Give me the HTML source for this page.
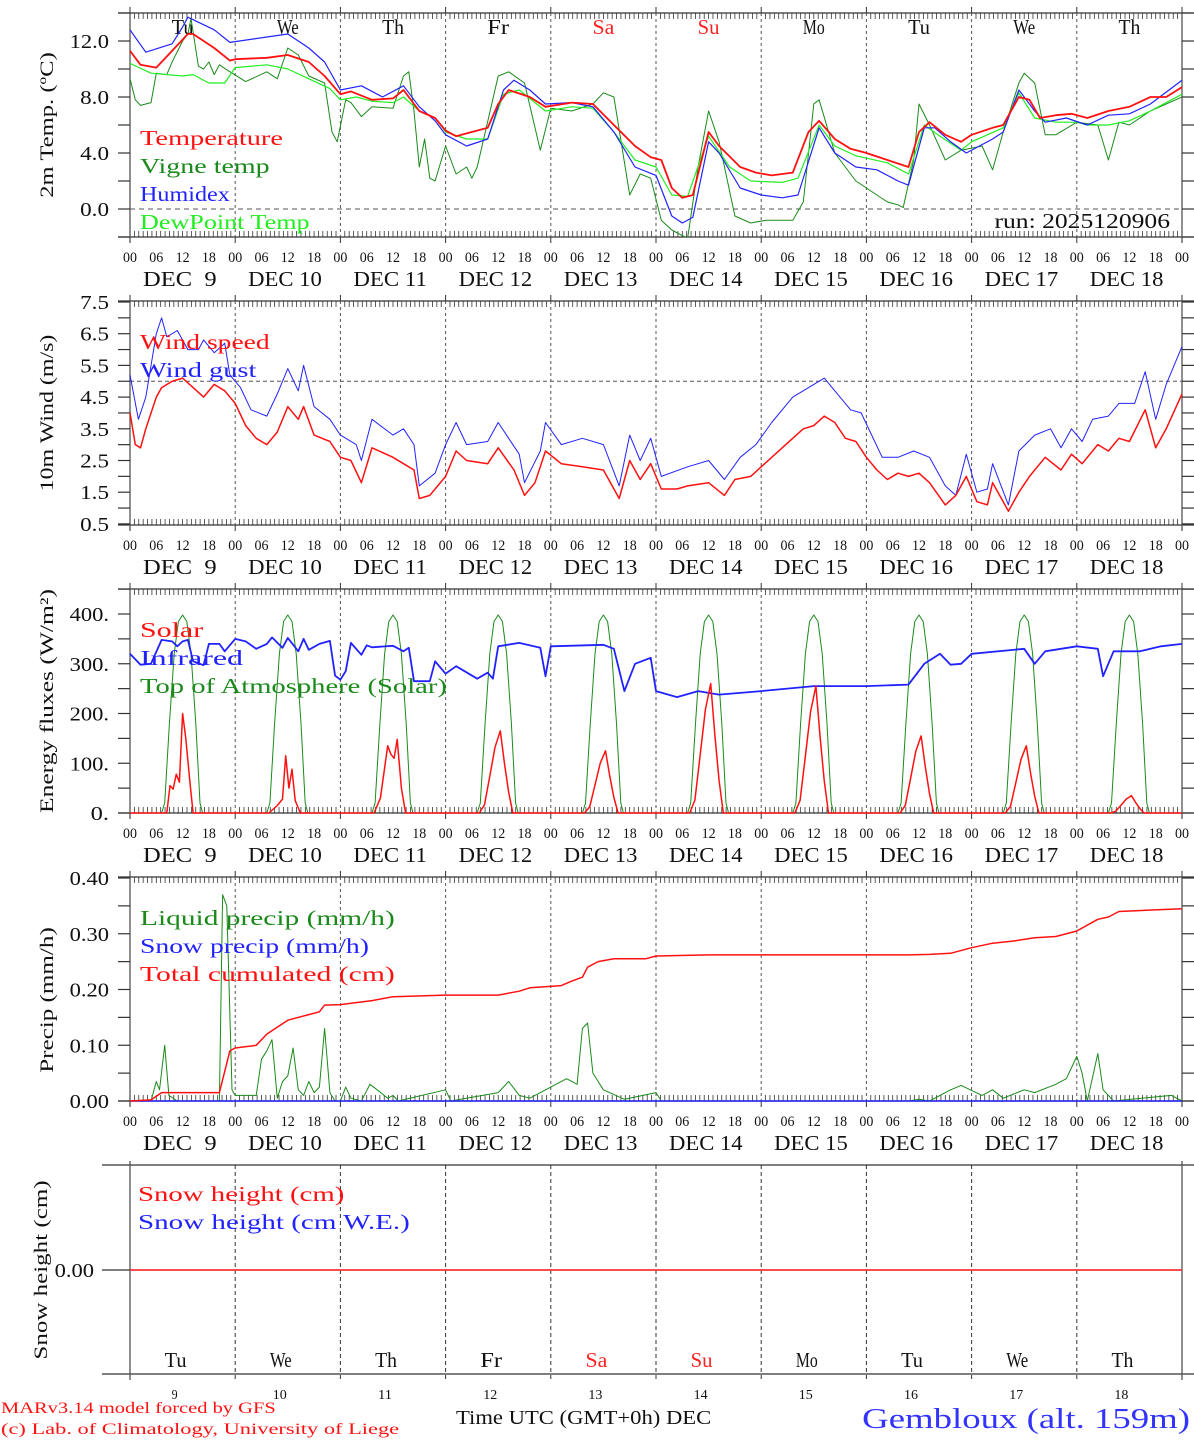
<!DOCTYPE html>
<html><head><meta charset="utf-8"><style>
html,body{margin:0;padding:0;background:#fff;}
svg{display:block;}
text{font-family:"Liberation Serif","DejaVu Serif",serif;}
</style></head><body>
<svg id="s" width="1194" height="1440" xmlns="http://www.w3.org/2000/svg"></svg>
<script>
var S=document.getElementById('s'),H='';
var X0=130,X1=1182,DW=(X1-X0)/10;
function X(d){return X0+d*DW;}
function ln(x1,y1,x2,y2,c,w,da){H+='<line x1="'+x1+'" y1="'+y1+'" x2="'+x2+'" y2="'+y2+'" stroke="'+c+'" stroke-width="'+(w||1)+'"'+(da?' stroke-dasharray="'+da+'"':'')+'/>';}
function tx(x,y,s,t,c,anc,cw,extra){var n=t.replace(/&#160;/g,' ').length;var tl=cw?' textLength="'+(n*cw-cw*0.25)+'" lengthAdjust="spacingAndGlyphs"':'';H+='<text x="'+x+'" y="'+y+'" font-size="'+s+'" fill="'+(c||'#111')+'" text-anchor="'+(anc||'start')+'"'+tl+' xml:space="preserve" '+(extra||'')+'>'+t+'</text>';}
function pl(pts,fy,c,w){var p=[];for(var i=0;i<pts.length;i+=2)p.push(X(pts[i]).toFixed(1)+','+fy(pts[i+1]).toFixed(1));H+='<polyline points="'+p.join(' ')+'" fill="none" stroke="'+c+'" stroke-width="'+(w||1)+'" stroke-linejoin="round"/>';}
var days=['Tu','We','Th','Fr','Sa','Su','Mo','Tu','We','Th'];
function ylab(t,cy,bx){var n=t.length,cw=11.2;H+='<text x="0" y="0" font-size="19" fill="#111" text-anchor="middle" textLength="'+(n*cw)+'" lengthAdjust="spacingAndGlyphs" transform="translate('+(bx||53)+','+cy+') rotate(-90)">'+t+'</text>';}
function panel(top,bot,ticks,yl,tcx){
  ln(118,top,1194,top,'#333',1.3);ln(118,bot,1194,bot,'#333',1.3);
  ln(X0,top,X0,bot+6,'#555',1.3);ln(X1,top,X1,bot+6,'#555',1.3);
  for(var d=1;d<10;d++){ln(X(d),top,X(d),bot,'#555',1,'3,3');ln(X(d),top-6,X(d),top,'#333',1);ln(X(d),bot,X(d),bot+6,'#333',1);}
  ln(X0,top-6,X0,top,'#333',1);ln(X1,top-6,X1,top,'#333',1);
  for(var h=1;h<240;h++){if(h%24==0)continue;var xx=X(h/24);ln(xx,top,xx,top+6,'#333',0.8);ln(xx,bot,xx,bot-6,'#333',0.8);}
  for(var i=0;i<ticks.length;i++){var t=ticks[i];ln(118,t[0],X0,t[0],'#333',1.2);ln(X1,t[0],1194,t[0],'#333',1.2);if(t[1])tx(109,t[0]+7,20,t[1],'#111','end',10.5);}
  ylab(yl,tcx);
  for(var d=0;d<=10;d++){var hs=['00','06','12','18'];for(var k=0;k<4;k++){if(d==10&&k>0)break;tx(X(d+k/4),bot+25,15,hs[k],'#111','middle',8);}}
  for(var d=0;d<10;d++){tx(X(d)+13,bot+49,21,'DEC '+(d==0?'&#160;9':(9+d)),'#111','start',12.8);}
}
// Panel 1
function f1(v){return 209-v*14;}
var tk1=[];for(var v=-2;v<=14;v+=1)tk1.push([f1(v),(v>=0&&v%4==0)?v.toFixed(1):'']);
tk1=tk1.filter(function(t,i){return (i%2==0);});
panel(13,237,tk1,'2m Temp. (ºC)',125);
ln(X0,209,X1,209,'#555',1,'5,4');
for(var d=0;d<10;d++)tx(X(d+0.5),34,21,days[d],(d==4||d==5)?'#f22':'#111','middle',12.5);
var vig=[0,9.3,0.05,7.8,0.1,7.4,0.2,7.6,0.25,9.7,0.35,9.6,0.4,10.5,0.5,12,0.55,12.5,0.58,13.6,0.65,10.2,0.7,10,0.75,10.5,0.8,9.6,0.85,10.3,0.95,9.8,1.1,9.1,1.3,9.8,1.4,9.3,1.5,11.5,1.6,11,1.7,9.5,1.85,9,1.92,5.5,1.97,4.8,2.05,7.8,2.1,7.6,2.2,6.6,2.3,7.3,2.5,7.2,2.6,9.5,2.65,9.8,2.7,7,2.75,3,2.8,5,2.85,2.2,2.9,2,3,4.5,3.1,2.5,3.2,3,3.25,2.2,3.3,3,3.5,9.5,3.6,9.8,3.75,9,3.9,4.2,4,7.2,4.2,7,4.4,7.5,4.5,8.3,4.6,8,4.75,1,4.85,2.5,4.95,2.2,5.05,-0.8,5.15,-1.5,5.3,-2.1,5.4,3,5.5,7,5.6,4.8,5.75,-0.5,5.9,-1,6.05,-0.8,6.3,-0.8,6.4,0.5,6.5,7.5,6.55,7.8,6.7,4,6.9,2,7.2,0.5,7.3,0.3,7.35,0.1,7.45,3.5,7.5,7.5,7.6,6,7.75,3.5,7.9,4.2,8.1,4.5,8.2,2.8,8.3,5.5,8.45,9,8.5,9.7,8.6,9,8.7,5.3,8.8,5.3,9,6.2,9.2,6,9.3,3.5,9.4,6.2,9.5,6,9.7,7,10,8];
var dew=[0,10.4,0.2,9.7,0.5,9.5,0.6,9.6,0.75,9,0.9,9,1,10.1,1.3,10.3,1.5,10,1.7,9.3,1.9,8.6,2,7.8,2.15,8,2.3,7.7,2.5,7.6,2.6,8,2.75,7,2.9,6.5,3,5.5,3.2,5,3.4,5,3.55,8.2,3.7,8.5,3.95,7,4.2,7.3,4.4,7.2,4.6,5.5,4.8,3.5,5,3,5.15,1,5.3,0.9,5.5,5.2,5.7,3,5.9,2,6.2,1.9,6.35,2.2,6.55,6,6.7,4.5,6.9,3.8,7.2,3.3,7.4,2.5,7.55,6,7.7,5.2,7.9,4.2,8,4.8,8.3,5.8,8.45,8.3,8.6,6.5,8.8,6.2,9,6.2,9.1,6,9.3,6,9.5,6.3,9.7,7,10,8.2];
var hum=[0,12.8,0.15,11.2,0.4,11.8,0.5,13,0.55,13.7,0.8,12.8,0.95,11.9,1.5,12.5,1.7,11.5,1.85,10.5,2,8.5,2.2,8.8,2.4,8,2.6,8.8,2.75,7.3,2.9,6.3,3,5.3,3.2,4.5,3.4,5,3.55,8.5,3.65,9.2,3.8,8.5,3.95,7.5,4.2,7.6,4.4,7.3,4.6,5.5,4.8,3,5,2.4,5.15,-0.5,5.25,-1,5.35,-0.6,5.5,4.8,5.6,4,5.8,1.5,6,1,6.2,0.8,6.35,1,6.55,5.8,6.7,4,6.9,3,7.1,2.8,7.3,2,7.4,1.7,7.55,5.8,7.65,5.8,7.8,4.8,7.95,4,8.2,5,8.3,5.5,8.45,8.5,8.6,7,8.7,6.2,8.9,6.5,9.1,6,9.3,6.7,9.5,6.8,9.7,7.5,10,9.2];
var tem=[0,11.3,0.1,10.3,0.25,10.1,0.3,10.5,0.55,12.5,0.6,12.5,0.8,11.5,0.95,10.6,1,10.7,1.3,10.8,1.5,11,1.7,10.5,1.85,9.5,2,8.2,2.1,8.4,2.3,7.8,2.5,7.9,2.6,8.5,2.75,7,2.9,6.5,3,5.6,3.1,5.2,3.2,5.4,3.4,5.8,3.5,7.5,3.6,8.5,3.8,8,3.95,7.3,4.2,7.6,4.4,7.5,4.6,6,4.8,4.5,4.95,3.7,5.05,3.5,5.15,1.5,5.25,0.8,5.35,1,5.5,5.5,5.6,4.5,5.8,3,5.95,2.6,6.1,2.4,6.3,2.6,6.45,5.5,6.55,6.3,6.7,5,6.85,4.3,7,4,7.2,3.5,7.4,3,7.5,5.5,7.6,6.2,7.75,5.3,7.9,4.8,8,5.3,8.2,5.8,8.3,6,8.45,8,8.55,7.8,8.65,6.5,8.8,6.7,8.95,6.8,9.1,6.5,9.3,7,9.5,7.3,9.7,8,9.85,8,10,8.7];
H+='<clipPath id="c1"><rect x="130" y="13" width="1052" height="224"/></clipPath><g clip-path="url(#c1)">';
pl(vig,f1,'#1a8a1a',1);pl(dew,f1,'#2e2',1.2);pl(hum,f1,'#22f',1.2);pl(tem,f1,'#f11',1.8);
H+='</g>';
tx(140,145,21,'Temperature','#f11','start',13.3);tx(140,173,21,'Vigne temp','#1a8a1a','start',13.3);tx(140,201,21,'Humidex','#22f','start',13.3);tx(140,229,21,'DewPoint Temp','#2e2','start',13.3);
tx(1170,228,21,'run: 2025120906','#111','end',11.9);
// Panel 2
function f2(v){return 302+(7.5-v)*31.7;}
var tk2=[];for(var v=0.5;v<=7.51;v+=0.5){tk2.push([f2(v),(Math.round(v*2)%2==1)?v.toFixed(1):'']);}
panel(301,525,tk2,'10m Wind (m/s)',413);
ln(X0,f2(5),X1,f2(5),'#555',1,'4,3');
var ws=[0,4,0.05,3,0.1,2.9,0.15,3.5,0.25,4.5,0.3,4.8,0.4,5,0.5,5.1,0.6,4.8,0.7,4.5,0.8,4.9,0.9,4.7,1,4.3,1.1,3.6,1.2,3.2,1.3,3,1.4,3.4,1.5,4.2,1.6,3.8,1.65,4.2,1.75,3.3,1.9,3.1,2,2.6,2.1,2.5,2.2,1.8,2.3,2.9,2.5,2.6,2.6,2.4,2.7,2.2,2.75,1.3,2.85,1.4,3,2,3.1,2.8,3.2,2.5,3.4,2.4,3.5,2.9,3.65,2.2,3.75,1.4,3.85,1.8,3.95,2.8,4.1,2.4,4.3,2.3,4.5,2.2,4.65,1.3,4.75,2.5,4.85,1.9,4.95,2.4,5.05,1.6,5.2,1.6,5.3,1.7,5.5,1.8,5.65,1.4,5.75,1.9,5.9,2,6,2.3,6.2,2.9,6.4,3.5,6.5,3.6,6.6,3.9,6.7,3.7,6.8,3.2,6.9,3.1,7,2.6,7.1,2.2,7.2,1.9,7.3,2.1,7.4,2,7.5,2.1,7.6,1.8,7.75,1.1,7.85,1.4,7.95,2,8.05,1.2,8.15,1.1,8.2,1.8,8.3,1.2,8.35,0.9,8.45,1.5,8.55,2,8.7,2.6,8.85,2.2,8.95,2.7,9.05,2.4,9.2,3,9.3,2.8,9.4,3.2,9.5,3.1,9.65,4.1,9.75,2.9,9.85,3.5,10,4.6];
var wg=[0,5.2,0.08,3.8,0.15,4.5,0.25,6.5,0.3,7,0.35,6.4,0.45,6.6,0.55,6,0.65,6,0.7,6.3,0.8,5.9,0.9,6.2,0.95,5.2,1.05,4.8,1.15,4.1,1.3,3.9,1.4,4.6,1.5,5.4,1.6,4.7,1.65,5.5,1.75,4.2,1.9,3.8,2,3.3,2.15,3,2.2,2.5,2.3,3.8,2.5,3.3,2.6,3.5,2.7,3,2.75,1.7,2.9,2.1,3,3,3.1,3.7,3.2,3,3.4,3.1,3.5,3.7,3.7,2.7,3.75,1.8,3.9,2.8,3.95,3.7,4.1,3,4.3,3.2,4.5,3,4.65,1.7,4.75,3.3,4.85,2.5,4.95,3.2,5.05,2,5.3,2.3,5.5,2.5,5.65,1.9,5.8,2.6,5.95,3,6.1,3.7,6.3,4.5,6.5,4.9,6.6,5.1,6.7,4.7,6.85,4.1,6.95,4,7.05,3.3,7.15,2.6,7.3,2.6,7.45,2.8,7.6,2.6,7.75,1.7,7.85,1.4,7.95,2.7,8.05,1.5,8.15,1.6,8.2,2.4,8.35,1.1,8.45,2.8,8.6,3.3,8.75,3.5,8.85,2.9,8.95,3.5,9.05,3.1,9.15,3.8,9.3,3.9,9.4,4.3,9.55,4.3,9.65,5.3,9.75,3.8,9.85,4.9,10,6.1];
pl(wg,f2,'#22f',1);pl(ws,f2,'#f11',1.5);
tx(140,349,21,'Wind speed','#f11','start',13.3);tx(140,377,21,'Wind gust','#22f','start',13.3);
// Panel 3
function f3(v){return 813-v*0.4975;}
var tk3=[];for(var v=0;v<=450;v+=50)tk3.push([f3(v),(v%100==0)?(v+'.'):'']);
panel(589,813,tk3,'Energy fluxes (W/m²)',701);
var toa=[],sol=[],pk=[200,115,145,165,125,260,255,155,135,35];
for(var d=0;d<10;d++){
 var shp=[[0.30,0],[0.33,20],[0.375,180],[0.42,320],[0.46,385],[0.5,398],[0.54,385],[0.58,320],[0.625,180],[0.665,20],[0.69,0]];
 if(d==0)toa.push(0,0);for(var k=0;k<shp.length;k++)toa.push(d+shp[k][0],shp[k][1]);
 var p=pk[d];var ss=[[0.32,0],[0.37,0.1*p],[0.42,0.45*p],[0.47,0.8*p],[0.52,p],[0.56,0.6*p],[0.6,0.25*p],[0.64,0]];
 if(d==0)ss=[[0.3,0],[0.35,0],[0.38,55],[0.41,48],[0.44,78],[0.47,62],[0.5,200],[0.53,150],[0.57,60],[0.6,0]];
 if(d==1)ss=[[0.32,0],[0.4,15],[0.45,28],[0.48,115],[0.51,50],[0.54,88],[0.57,25],[0.62,0]];
 if(d==2)ss=[[0.32,0],[0.38,30],[0.45,135],[0.48,118],[0.51,110],[0.54,148],[0.58,50],[0.62,0]];
 if(d==0)sol.push(0,0);for(var k=0;k<ss.length;k++)sol.push(d+ss[k][0],ss[k][1]);
}
toa.push(10,0);sol.push(10,0);
var ir=[0,320,0.1,298,0.2,300,0.3,348,0.4,345,0.45,335,0.5,345,0.55,348,0.6,305,0.7,297,0.75,340,0.85,340,0.9,325,1,350,1.1,345,1.2,330,1.3,340,1.35,353,1.45,332,1.5,352,1.6,325,1.65,350,1.7,328,1.8,340,1.9,346,1.95,276,2,268,2.05,285,2.1,342,2.2,318,2.25,337,2.3,333,2.5,336,2.6,325,2.65,332,2.7,265,2.85,265,2.9,305,3,280,3.1,295,3.3,270,3.4,282,3.45,270,3.5,335,3.7,342,3.9,332,3.95,275,4,335,4.5,338,4.6,330,4.7,245,4.8,300,4.95,312,5,245,5.2,233,5.4,245,5.6,238,6,245,6.5,255,7,255,7.4,258,7.55,300,7.7,320,7.8,298,7.9,300,8,320,8.5,330,8.6,300,8.7,325,9,335,9.2,330,9.25,275,9.35,325,9.6,325,9.8,335,10,340];
pl(toa,f3,'#1a8a1a',1);pl(ir,f3,'#22f',1.8);pl(sol,f3,'#f11',1.5);
tx(140,637,21,'Solar','#f11','start',13.3);tx(140,665,21,'Infrared','#22f','start',13.3);tx(140,693,21,'Top of Atmosphere (Solar)','#1a8a1a','start',12.4);
// Panel 4
function f4(v){return 1101-v*557.5;}
var tk4=[];for(var v=0;v<=0.401;v+=0.05)tk4.push([f4(v),(Math.round(v*100)%10==0)?v.toFixed(2):'']);
panel(877,1101,tk4,'Precip (mm/h)',1000);
var cum=[0,0,0.2,0.002,0.3,0.015,0.85,0.015,0.95,0.09,1,0.095,1.2,0.1,1.3,0.12,1.5,0.145,1.7,0.155,1.8,0.16,1.85,0.172,2,0.173,2.3,0.18,2.5,0.187,3,0.19,3.5,0.19,3.7,0.197,3.8,0.203,4.1,0.207,4.2,0.215,4.3,0.222,4.35,0.24,4.45,0.25,4.6,0.255,4.9,0.255,5,0.26,5.5,0.262,7.4,0.262,7.6,0.263,7.8,0.265,8,0.275,8.2,0.283,8.4,0.287,8.6,0.293,8.8,0.295,9,0.305,9.2,0.326,9.3,0.33,9.4,0.34,10,0.345];
var liq=[0,0,0.2,0,0.25,0.035,0.28,0.02,0.33,0.1,0.37,0.01,0.45,0,0.85,0,0.88,0.37,0.92,0.35,0.97,0.02,1,0.01,1.2,0.01,1.25,0.075,1.3,0.09,1.35,0.11,1.4,0.005,1.45,0.035,1.5,0.045,1.55,0.095,1.6,0.02,1.65,0.01,1.7,0.035,1.75,0.015,1.8,0.025,1.85,0.13,1.9,0.015,1.95,0,2,0,2.05,0.025,2.1,0.005,2.2,0,2.28,0.03,2.35,0.02,2.45,0.005,2.5,0.01,2.55,0,3,0.02,3.05,0,3.5,0.015,3.6,0.035,3.7,0.01,3.8,0.005,4.15,0.04,4.25,0.03,4.3,0.13,4.35,0.14,4.4,0.05,4.5,0.02,4.7,0.003,5,0.015,5.05,0,7.4,0,7.5,0.003,7.6,0,7.8,0.02,7.9,0.028,8.1,0.01,8.2,0.02,8.3,0.005,8.5,0.02,8.6,0.015,8.8,0.03,8.9,0.04,9,0.08,9.05,0.05,9.1,0,9.2,0.085,9.25,0.02,9.35,0,9.9,0.01,10,0];
pl(liq,f4,'#1a8a1a',1);pl([0,0,10,0],f4,'#22f',1.5);pl(cum,f4,'#f11',1.5);
tx(140,925,21,'Liquid precip (mm/h)','#1a8a1a','start',12.9);tx(140,953,21,'Snow precip (mm/h)','#22f','start',12.9);tx(140,981,21,'Total cumulated (cm)','#f11','start',12.9);
// Panel 5
var t5=1165,b5=1374;
ln(102,t5,1194,t5,'#333',1.3);ln(102,b5,1194,b5,'#333',1.3);
ln(X0,t5-4,X0,b5+6,'#555',1.3);ln(X1,t5-4,X1,b5+6,'#555',1.3);
for(var d=1;d<10;d++)ln(X(d),t5,X(d),b5+6,'#333',1,'4,3');
ln(102,1270,X0,1270,'#333',1.2);
tx(94,1277,20,'0.00','#111','end',10.5);
ln(X0,1270,X1,1270,'#f33',1.8);
ylab('Snow height (cm)',1270,47);
tx(138,1201,21,'Snow height (cm)','#f11','start',13.1);tx(138,1229,21,'Snow height (cm W.E.)','#22f','start',13.1);
for(var d=0;d<10;d++){tx(X(d+0.5)-7,1367,21,days[d],(d==4||d==5)?'#f22':'#111','middle',12.5);tx(X(d+0.5)-8,1399,14,String(9+d),'#111','middle',8);}
tx(456,1424,20,'Time UTC (GMT+0h) DEC','#111','start',12.3);
tx(1190,1428,29,'Gembloux (alt. 159m)','#33f','end',16.6);
tx(1,1413,16,'MARv3.14 model forced by GFS','#f11','start',9.9);
tx(1,1434,16,'(c) Lab. of Climatology, University of Liege','#f11','start',9.1);
S.innerHTML=H;
</script>
</body></html>
